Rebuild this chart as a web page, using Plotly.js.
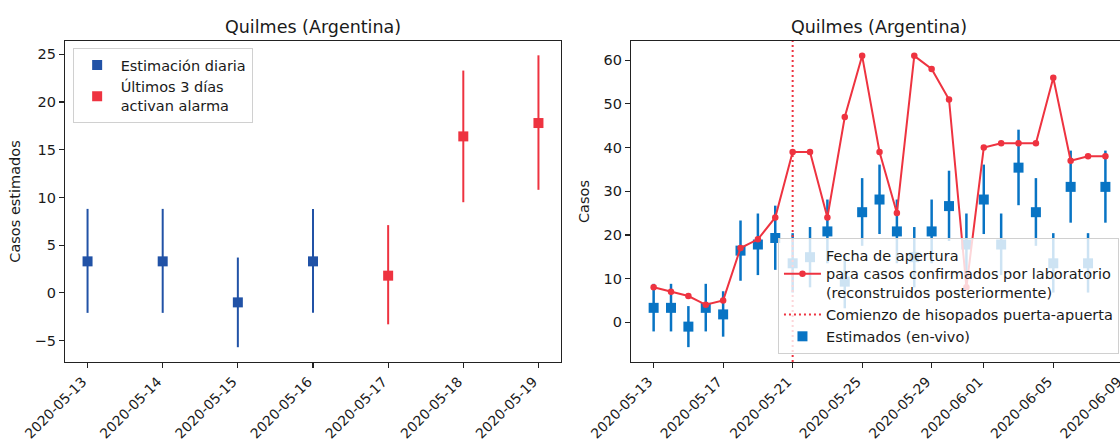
<!DOCTYPE html>
<html>
<head>
<meta charset="utf-8">
<script src="https://cdn.plot.ly/plotly-3.0.1.min.js"></script>
<style>
  html, body { margin: 0; padding: 0; overflow: hidden; background: #fff; }
  #chart { width: 1150px; height: 442px; }
</style>
</head>
<body>
<div id="chart"></div>
<script>
// ---------- Data: left panel ----------
const leftBlueDates = ['2020-05-13', '2020-05-14', '2020-05-15', '2020-05-16'];
const leftBlueVals  = [3.3, 3.3, -1.0, 3.3];
const leftBlueLo    = [-2.1, -2.1, -5.7, -2.1];
const leftBlueHi    = [8.8, 8.8, 3.7, 8.8];

const leftRedDates = ['2020-05-17', '2020-05-18', '2020-05-19'];
const leftRedVals  = [1.8, 16.4, 17.8];
const leftRedLo    = [-3.3, 9.5, 10.8];
const leftRedHi    = [7.1, 23.3, 24.9];

const leftTickLabels = ['2020-05-13', '2020-05-14', '2020-05-15', '2020-05-16',
                        '2020-05-17', '2020-05-18', '2020-05-19'];

// ---------- Data: right panel ----------
const rightDates = ['2020-05-13','2020-05-14','2020-05-15','2020-05-16','2020-05-17',
  '2020-05-18','2020-05-19','2020-05-20','2020-05-21','2020-05-22','2020-05-23',
  '2020-05-24','2020-05-25','2020-05-26','2020-05-27','2020-05-28','2020-05-29',
  '2020-05-30','2020-05-31','2020-06-01','2020-06-02','2020-06-03','2020-06-04',
  '2020-06-05','2020-06-06','2020-06-07','2020-06-08'];
const confirmedCases = [8, 7, 6, 4, 5, 17, 19, 24, 39, 39, 24, 47, 61, 39, 25, 61, 58,
  51, 8, 40, 41, 41, 41, 56, 37, 38, 38];
const estVals = [3.3, 3.3, -1.0, 3.3, 1.8, 16.4, 17.8, 19.3, 13.5, 14.9, 20.8, 9.3, 25.2,
  28.1, 20.8, 14.9, 20.8, 26.6, 17.8, 28.1, 17.8, 35.4, 25.2, 13.5, 31.0, 13.5, 31.0];
const estLo = [-2.1, -2.1, -5.7, -2.1, -3.3, 9.5, 10.8, 12.0, 6.8, 8.0, 13.5, 3.2, 17.5,
  20.2, 13.5, 8.0, 13.5, 18.6, 10.8, 20.2, 10.8, 26.8, 17.5, 6.8, 22.8, 6.8, 22.8];
const estHi = [8.8, 8.8, 3.7, 8.8, 7.1, 23.3, 24.9, 26.7, 20.4, 21.8, 28.1, 15.4, 33.0,
  36.1, 28.1, 21.8, 28.1, 34.7, 24.9, 36.1, 24.9, 44.1, 33.0, 20.4, 39.3, 20.4, 39.3];
const swabStartDate = '2020-05-21';
const rightTickLabels = ['2020-05-13', '2020-05-17', '2020-05-21', '2020-05-25',
                         '2020-05-29', '2020-06-01', '2020-06-05', '2020-06-09'];

const titleText = 'Quilmes (Argentina)';

// ---------- Styling ----------
const FONT = 'DejaVu Sans, sans-serif';
const TXT = '#1a1a1a';
const BLUE_L = '#2152a6';
const BLUE_R = '#0874c4';
const RED = '#ee3340';

function errUp(v, hi) { return v.map((d, i) => hi[i] - d); }
function errDown(v, lo) { return v.map((d, i) => d - lo[i]); }

const traces = [
  {
    x: leftBlueDates, y: leftBlueVals, type: 'scatter', mode: 'markers',
    name: 'Estimación diaria', legend: 'legend', xaxis: 'x', yaxis: 'y',
    marker: { symbol: 'square', size: 10, color: BLUE_L },
    error_y: { type: 'data', symmetric: false, array: errUp(leftBlueVals, leftBlueHi),
               arrayminus: errDown(leftBlueVals, leftBlueLo), color: BLUE_L, thickness: 2, width: 0 }
  },
  {
    x: leftRedDates, y: leftRedVals, type: 'scatter', mode: 'markers',
    name: 'Últimos 3 días<br>activan alarma', legend: 'legend', xaxis: 'x', yaxis: 'y',
    marker: { symbol: 'square', size: 10, color: RED },
    error_y: { type: 'data', symmetric: false, array: errUp(leftRedVals, leftRedHi),
               arrayminus: errDown(leftRedVals, leftRedLo), color: RED, thickness: 2, width: 0 }
  },
  {
    x: rightDates, y: estVals, type: 'scatter', mode: 'markers',
    name: 'Estimados (en-vivo)', legend: 'legend2', legendrank: 3, xaxis: 'x2', yaxis: 'y2',
    marker: { symbol: 'square', size: 10, color: BLUE_R },
    error_y: { type: 'data', symmetric: false, array: errUp(estVals, estHi),
               arrayminus: errDown(estVals, estLo), color: BLUE_R, thickness: 2.5, width: 0 }
  },
  {
    x: rightDates, y: confirmedCases, type: 'scatter', mode: 'lines+markers',
    name: 'Fecha de apertura<br>para casos confirmados por laboratorio<br>(reconstruidos posteriormente)',
    legend: 'legend2', legendrank: 1, xaxis: 'x2', yaxis: 'y2',
    line: { color: RED, width: 2 },
    marker: { symbol: 'circle', size: 6.5, color: RED }
  }
];

const axisCommon = {
  showline: true, mirror: true, linecolor: '#222', linewidth: 1.2,
  ticks: 'outside', ticklen: 5, tickwidth: 1.2, tickcolor: '#222',
  showgrid: false, zeroline: false,
  tickfont: { family: FONT, size: 14.5, color: TXT }
};
const xTickFont = { family: FONT, size: 13.8, color: TXT };

const layout = {
  width: 1150, height: 442,
  margin: { l: 65, r: 22, t: 41, b: 80 },
  paper_bgcolor: '#fff', plot_bgcolor: '#fff',
  font: { family: FONT, color: TXT, size: 14.5 },
  xaxis: Object.assign({}, axisCommon, {
    domain: [0, 0.4666], type: 'date', anchor: 'y',
    range: ['2020-05-12 16:48', '2020-05-19 07:12'],
    tickvals: leftTickLabels, ticktext: leftTickLabels, tickangle: -45, tickfont: xTickFont,
    ticklabelshift: -5
  }),
  yaxis: Object.assign({}, axisCommon, {
    domain: [0, 1], anchor: 'x', range: [-7.25, 26.4], dtick: 5, tick0: 0,
    title: { text: 'Casos estimados', font: { family: FONT, size: 14.5, color: TXT }, standoff: 10 }
  }),
  xaxis2: Object.assign({}, axisCommon, {
    domain: [0.5325, 1], type: 'date', anchor: 'y2',
    range: ['2020-05-11 16:48', '2020-06-09 07:12'],
    tickvals: rightTickLabels, ticktext: rightTickLabels, tickangle: -45, tickfont: xTickFont,
    ticklabelshift: -5
  }),
  yaxis2: Object.assign({}, axisCommon, {
    domain: [0, 1], anchor: 'x2', range: [-9.1, 64.4], dtick: 10, tick0: 0,
    title: { text: 'Casos', font: { family: FONT, size: 14.5, color: TXT }, standoff: 10 }
  }),
  legend: {
    x: 0.0072, y: 0.978, xanchor: 'left', yanchor: 'top', itemwidth: 37,
    bgcolor: 'rgba(255,255,255,0.8)', bordercolor: '#d0d0d0', borderwidth: 1,
    font: { family: FONT, size: 14.5, color: TXT }, tracegroupgap: 2
  },
  legend2: {
    x: 0.9915, y: 0.025, xanchor: 'right', yanchor: 'bottom', itemwidth: 37,
    bgcolor: 'rgba(255,255,255,0.8)', bordercolor: '#d0d0d0', borderwidth: 1,
    font: { family: FONT, size: 14.5, color: TXT }, traceorder: 'normal'
  },
  shapes: [{
    type: 'line', xref: 'x2', yref: 'y2 domain',
    x0: swabStartDate, x1: swabStartDate, y0: 0, y1: 1,
    line: { color: RED, width: 2, dash: '2px,3px' },
    showlegend: true, legend: 'legend2', legendrank: 2,
    name: 'Comienzo de hisopados puerta-apuerta'
  }],
  annotations: [
    { text: titleText, xref: 'paper', yref: 'paper', x: 0.2333, y: 1.0436,
      xanchor: 'center', yanchor: 'middle', showarrow: false,
      font: { family: FONT, size: 17.5, color: TXT } },
    { text: titleText, xref: 'paper', yref: 'paper', x: 0.7662, y: 1.0436,
      xanchor: 'center', yanchor: 'middle', showarrow: false,
      font: { family: FONT, size: 17.5, color: TXT } }
  ],
  showlegend: true
};

Plotly.newPlot('chart', traces, layout, { displayModeBar: false, staticPlot: true });
</script>
</body>
</html>
